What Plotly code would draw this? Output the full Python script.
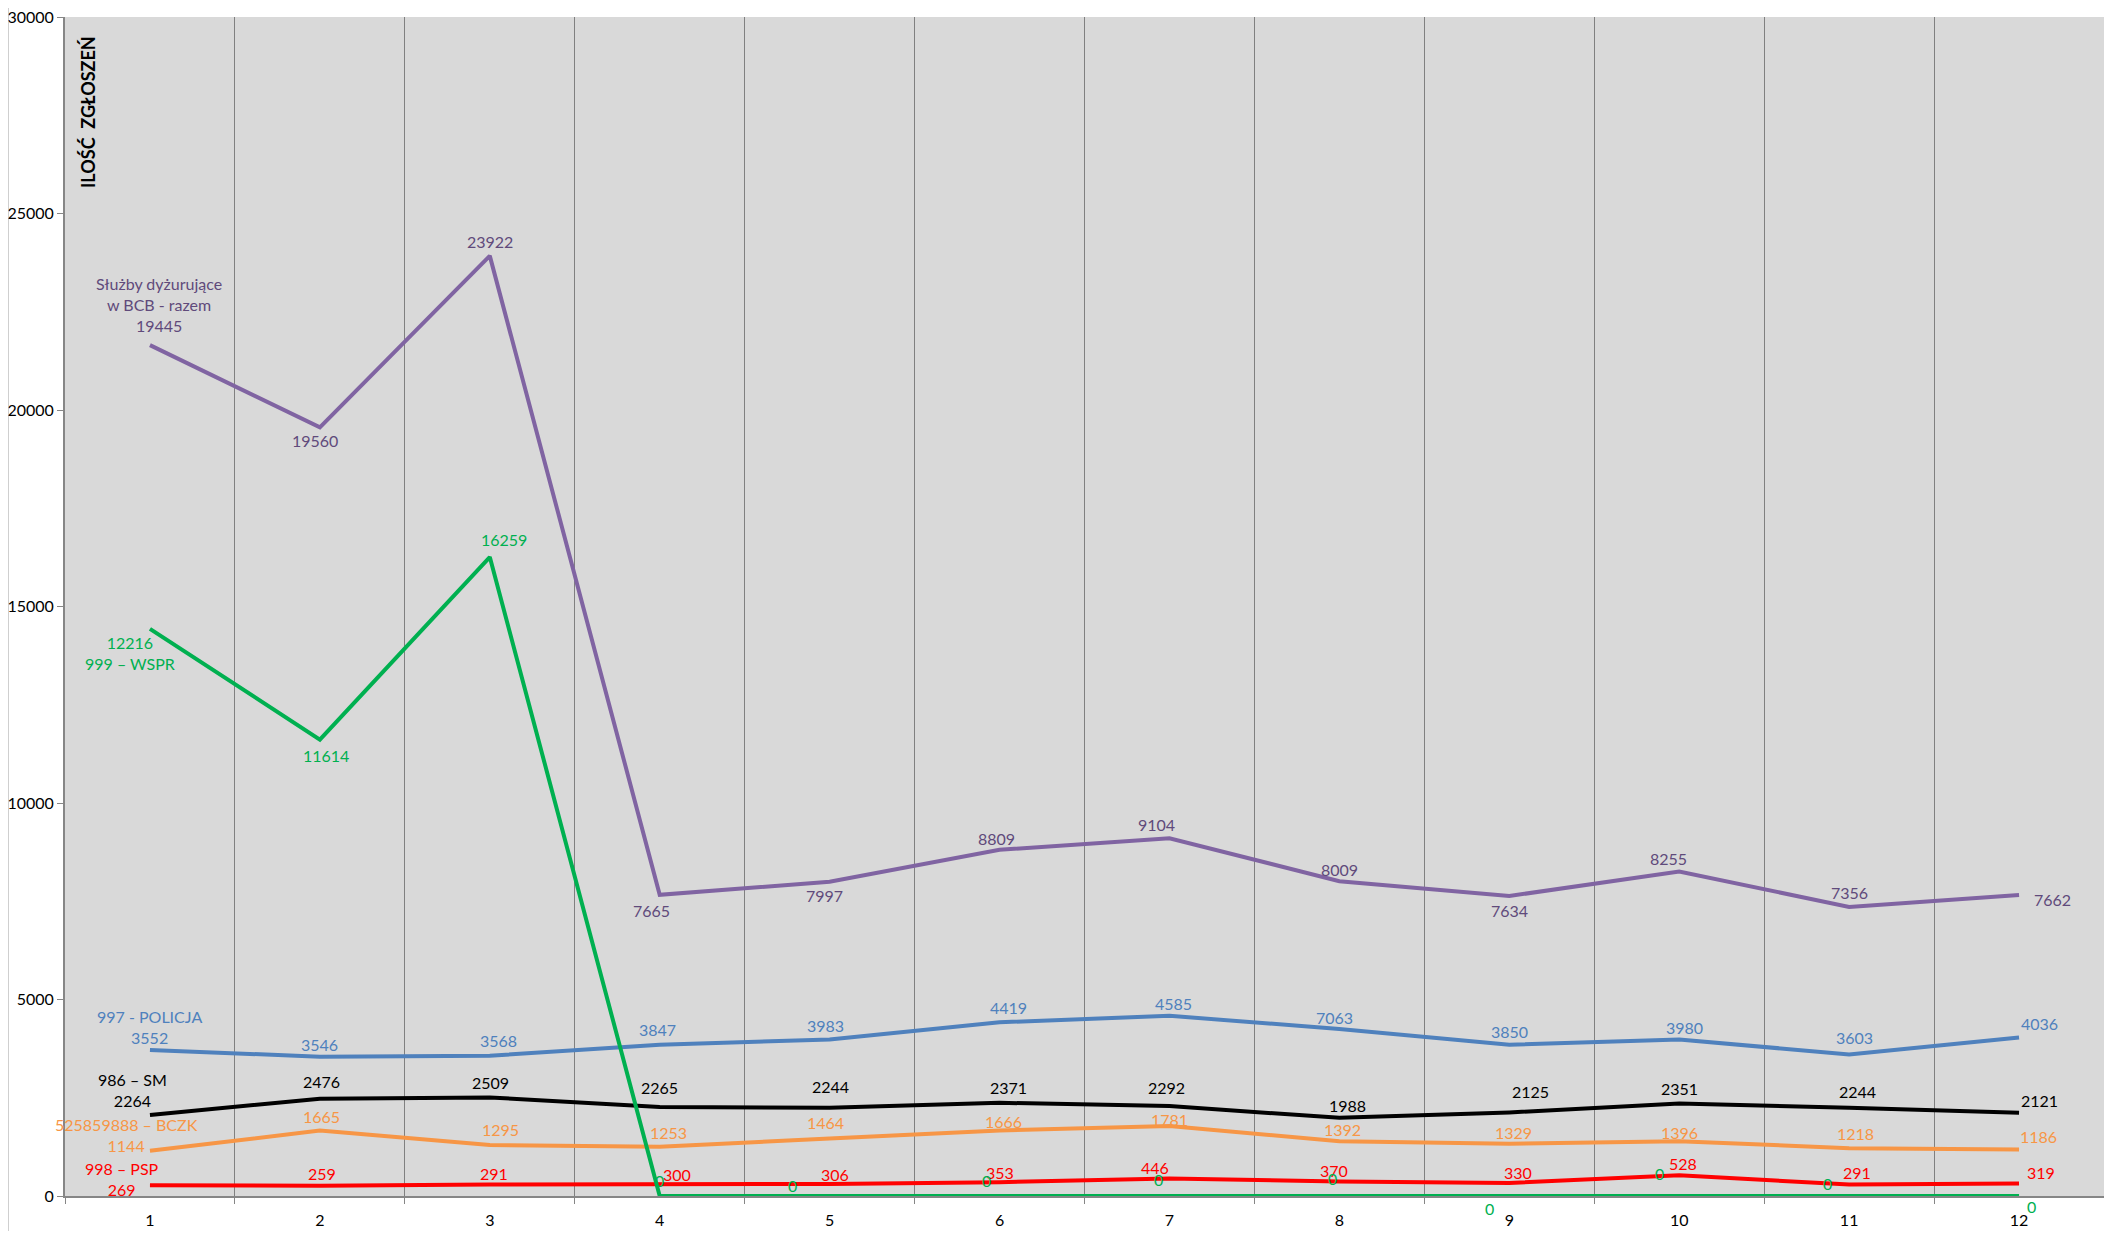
import plotly.graph_objects as go

months = [1, 2, 3, 4, 5, 6, 7, 8, 9, 10, 11, 12]
month_labels = ["1", "2", "3", "4", "5", "6", "7", "8", "9", "10", "11", "12"]

razem = [21650, 19560, 23922, 7665, 7997, 8809, 9104, 8009, 7634, 8255, 7356, 7662]
razem_labels = ["Służby dyżurujące<br>w BCB - razem<br>19445", "19560", "23922", "7665", "7997",
                "8809", "9104", "8009", "7634", "8255", "7356", "7662"]

wspr = [14430, 11614, 16259, 0, 0, 0, 0, 0, 0, 0, 0, 0]
wspr_labels = ["12216<br>999 – WSPR", "11614", "16259", "0", "0", "0", "0", "0", "0", "0", "0", "0"]

policja = [3715, 3546, 3568, 3847, 3983, 4419, 4585, 4250, 3850, 3980, 3603, 4036]
policja_labels = ["997 - POLICJA<br>3552", "3546", "3568", "3847", "3983", "4419", "4585",
                  "7063", "3850", "3980", "3603", "4036"]

sm = [2060, 2476, 2509, 2265, 2244, 2371, 2292, 1988, 2125, 2351, 2244, 2121]
sm_labels = ["986 – SM<br>2264", "2476", "2509", "2265", "2244", "2371", "2292", "1988",
             "2125", "2351", "2244", "2121"]

bczk = [1150, 1665, 1295, 1253, 1464, 1666, 1781, 1392, 1329, 1396, 1218, 1186]
bczk_labels = ["525859888 – BCZK<br>1144", "1665", "1295", "1253", "1464", "1666", "1781",
               "1392", "1329", "1396", "1218", "1186"]

psp = [275, 259, 291, 300, 306, 353, 446, 370, 330, 528, 291, 319]
psp_labels = ["998 – PSP<br>269", "259", "291", "300", "306", "353", "446", "370", "330",
              "528", "291", "319"]

y_ticks = [0, 5000, 10000, 15000, 20000, 25000, 30000]
y_title = "ILOŚĆ  ZGŁOSZEŃ"

# label offsets in pixels (style only)
off_razem = [(9, 41), (-5, -13), (0, 14), (-8, -16), (-5, -14), (-3, 11), (-13, 14), (0, 12),
             (0, -15), (-11, 13), (0, 14), (33, -5)]
off_wspr = [(-20, -24), (6, -16), (14, 18), (0, 16), (-37, 11), (-13, 16), (-11, 17), (-7, 18),
            (-20, -12), (-20, 23), (-22, 13), (12, -10)]
off_policja = [(0, 23), (0, 12), (9, 15), (-2, 15), (-4, 14), (9, 15), (4, 12), (-5, 11),
               (0, 13), (5, 12), (5, 17), (20, 14)]
off_sm = [(-17, 25), (2, 17), (1, 15), (0, 19), (1, 21), (9, 15), (-3, 18), (8, 12), (21, 21),
          (0, 15), (8, 16), (20, 12)]
off_bczk = [(-23, 16), (2, 14), (11, 16), (9, 14), (-4, 16), (4, 9), (0, 7), (3, 12), (4, 11),
            (0, 9), (6, 15), (19, 13)]
off_psp = [(-28, 6), (2, 12), (4, 11), (17, 10), (5, 9), (0, 10), (-14, 11), (-5, 11), (9, 11),
           (4, 12), (8, 12), (22, 11)]

series = [
    (razem, razem_labels, off_razem, "#8064A2", "#604A7B"),
    (policja, policja_labels, off_policja, "#4F81BD", "#4F81BD"),
    (sm, sm_labels, off_sm, "#000000", "#000000"),
    (bczk, bczk_labels, off_bczk, "#F79646", "#F79646"),
    (psp, psp_labels, off_psp, "#FF0000", "#FF0000"),
    (wspr, wspr_labels, off_wspr, "#00B050", "#00B050"),
]

FONT = "Lato, 'Open Sans', sans-serif"

fig = go.Figure()
annotations = []
for vals, labels, offs, lc, tc in series:
    fig.add_trace(go.Scatter(x=months, y=vals, mode="lines",
                             line=dict(color=lc, width=4), hoverinfo="skip", showlegend=False))
    for m, v, t, (dx, dy) in zip(months, vals, labels, offs):
        annotations.append(dict(x=m, y=v, xref="x", yref="y", text=t, showarrow=False,
                                xshift=dx, yshift=dy, align="center",
                                xanchor="center", yanchor="middle",
                                font=dict(family=FONT, size=16, color=tc)))

# page body has an 8px margin: plot area targeted at page x 65..2104, y 17..1196
W, H = 2096, 1223
ml, mr, mt, mb = 57, 0, 9, 35
pw = W - ml - mr
ph = H - mt - mb

annotations.append(dict(text="<b>" + y_title + "</b>", textangle=-90, showarrow=False,
                        xref="paper", yref="paper", xanchor="center", yanchor="middle",
                        x=(88 - 65) / pw, y=1 - (112 - 17) / ph,
                        font=dict(family=FONT, size=18, color="#000000")))

fig.update_layout(
    width=W, height=H,
    margin=dict(l=ml, r=mr, t=mt, b=mb),
    paper_bgcolor="#FFFFFF",
    plot_bgcolor="#D9D9D9",
    font=dict(family=FONT, size=16, color="#000000"),
    annotations=annotations,
    xaxis=dict(
        range=[0.5, 12.5],
        tickvals=months, ticktext=month_labels,
        ticks="outside", ticklen=9, tickcolor="rgba(0,0,0,0)",
        showgrid=False, zeroline=False,
        showline=True, linecolor="#868686", linewidth=2,
        tickfont=dict(family=FONT, size=16, color="#000000"),
        ticklabeloverflow="allow",
        minor=dict(tickmode="linear", tick0=0.5, dtick=1, showgrid=True,
                   gridcolor="#808080", gridwidth=1, ticks="outside", ticklen=6,
                   tickcolor="#868686", tickwidth=1),
    ),
    yaxis=dict(
        range=[0, 30000],
        tickvals=y_ticks, ticktext=[str(v) for v in y_ticks],
        ticks="outside", ticklen=6, tickcolor="#868686", tickwidth=1,
        showgrid=False, zeroline=False,
        showline=True, linecolor="#868686", linewidth=2,
        tickfont=dict(family=FONT, size=16, color="#000000"),
        ticklabeloverflow="allow",
    ),
    shapes=[dict(type="line", xref="paper", yref="paper", x0=-ml / pw, x1=-ml / pw,
                 y0=-mb / ph, y1=1 + mt / ph, line=dict(color="#A0A0A0", width=1))],
)

fig.write_html("out.html")
